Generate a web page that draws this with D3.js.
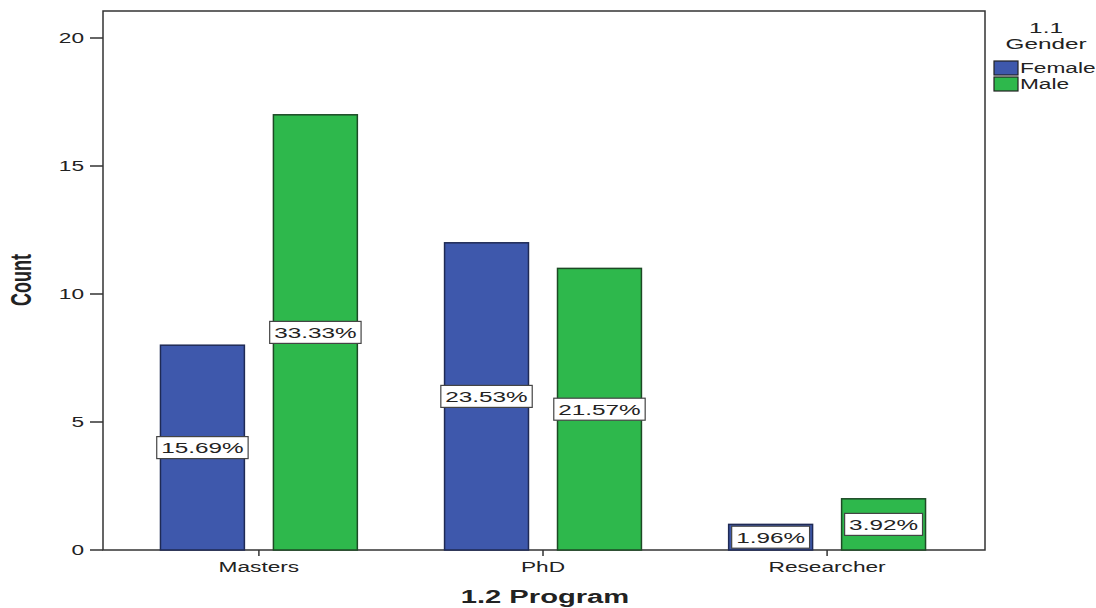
<!DOCTYPE html>
<html><head><meta charset="utf-8">
<script src="https://cdn.jsdelivr.net/npm/d3@7"></script>
<style>body{margin:0;background:#fff;} text{font-family:"Liberation Sans",Arial,sans-serif;fill:#222;}</style>
</head><body>
<svg id="c" width="1096" height="608"></svg>
<script>
const categories = ["Masters", "PhD", "Researcher"];
const genders = ["Female", "Male"];
const femaleCounts = [8, 12, 1];
const maleCounts = [17, 11, 2];
const femalePct = ["15.69%", "23.53%", "1.96%"];
const malePct = ["33.33%", "21.57%", "3.92%"];
const yTicks = [0, 5, 10, 15, 20];
const colors = ["#3e58ac", "#2eb84c"];

const SX = 1.62; // horizontal stretch of the reference's text
const svg = d3.select("#c");
const L = 103, R = 985, T = 11, B = 550;

const y = d3.scaleLinear().domain([0, 20]).range([B, 38]);
const x0 = d3.scaleBand().domain(categories).range([117, 969]).paddingInner(0.307).paddingOuter(0.153);
const x1 = d3.scaleBand().domain(genders).range([0, x0.bandwidth()]).paddingInner(0.257);

const rows = categories.map((c, i) => ({cat: c, vals: [
  {g: "Female", v: femaleCounts[i], p: femalePct[i]},
  {g: "Male", v: maleCounts[i], p: malePct[i]}]}));

function stext(sel, x, y, extra) {
  return sel.append("text").attr("transform", `translate(${x},${y}) scale(${SX},1)` + (extra || ""));
}

// frame
svg.append("rect").attr("x", L).attr("y", T).attr("width", R - L).attr("height", B - T)
  .attr("fill", "none").attr("stroke", "#333").attr("stroke-width", 1.5);

// bars
const g = svg.append("g");
rows.forEach(r => {
  r.vals.forEach((d, j) => {
    const bx = x0(r.cat) + x1(d.g);
    g.append("rect").attr("x", bx).attr("y", y(d.v)).attr("width", x1.bandwidth())
      .attr("height", B - y(d.v)).attr("fill", colors[j])
      .attr("stroke", j === 0 ? "#1f2a55" : "#1d4a25").attr("stroke-width", 1.5);
  });
});

// y axis ticks
yTicks.forEach(t => {
  svg.append("line").attr("x1", 90).attr("x2", L).attr("y1", y(t)).attr("y2", y(t))
    .attr("stroke", "#333").attr("stroke-width", 1.5);
  stext(svg, 84, y(t) + 5).attr("text-anchor", "end").attr("font-size", 14).text(t);
});

// x axis ticks and labels
categories.forEach(c => {
  const cx = x0(c) + x0.bandwidth() / 2;
  svg.append("line").attr("x1", cx).attr("x2", cx).attr("y1", B).attr("y2", B + 6)
    .attr("stroke", "#333").attr("stroke-width", 1.5);
  stext(svg, cx, 572).attr("text-anchor", "middle").attr("font-size", 14).text(c);
});

// value label boxes
rows.forEach(r => {
  r.vals.forEach(d => {
    const cx = x0(r.cat) + x1(d.g) + x1.bandwidth() / 2;
    const cy = y(d.v / 2);
    const lg = svg.append("g");
    const box = lg.append("rect");
    const t = stext(lg, cx, cy + 5.5).attr("text-anchor", "middle").attr("font-size", 15).text(d.p);
    const w = t.node().getComputedTextLength() * SX + 9;
    box.attr("x", cx - w / 2).attr("y", cy - 11).attr("width", w).attr("height", 22)
      .attr("fill", "#fff").attr("stroke", "#444").attr("stroke-width", 1.2);
  });
});

// axis titles
stext(svg, 545, 603).attr("text-anchor", "middle").attr("font-size", 18).attr("font-weight", "bold").text("1.2 Program");
svg.append("text").attr("transform", `translate(31,280) scale(${SX},1) rotate(-90)`)
  .attr("text-anchor", "middle").attr("font-size", 18).attr("font-weight", "bold").text("Count");

// legend
stext(svg, 1046, 33).attr("text-anchor", "middle").attr("font-size", 15).text("1.1");
stext(svg, 1046, 49).attr("text-anchor", "middle").attr("font-size", 15).text("Gender");
genders.forEach((gname, i) => {
  const ly = 61 + i * 16;
  svg.append("rect").attr("x", 994).attr("y", ly).attr("width", 24).attr("height", 14)
    .attr("fill", colors[i]).attr("stroke", "#222").attr("stroke-width", 1.2);
  stext(svg, 1020, ly + 12).attr("font-size", 14).text(gname);
});
</script>
</body></html>
